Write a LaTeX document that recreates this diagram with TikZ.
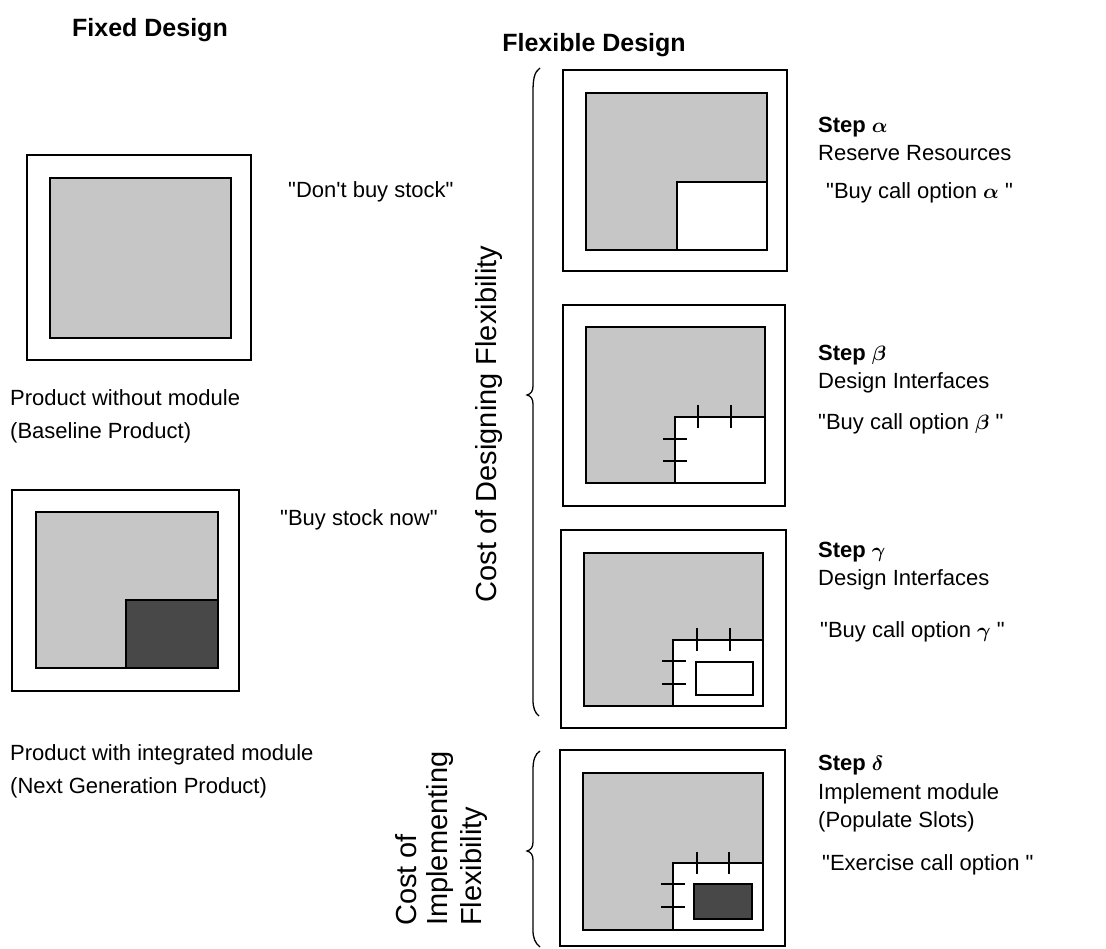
\documentclass[tikz,border=0pt]{standalone}
\usepackage{fontspec}
\usepackage{amsmath}
\setmainfont{Liberation Sans}[Ligatures=TeXOff]
\definecolor{graybox}{RGB}{198,198,198}
\definecolor{darkmod}{RGB}{72,72,72}
\begin{document}
\begin{tikzpicture}[x=1pt,y=-1pt,
  outerbox/.style={draw=black, line width=1.5pt, fill=white},
  innerbox/.style={draw=black, line width=1.8pt, fill=graybox},
  slotbox/.style={draw=black, line width=1.8pt, fill=white},
  modbox/.style={draw=black, line width=1.8pt, fill=darkmod},
  tickmark/.style={line width=1.6pt},
  bracestyle/.style={line width=1.3pt},
  title/.style={font=\fontsize{25}{30}\selectfont\bfseries, inner sep=0pt},
  body/.style={font=\fontsize{22}{33}\selectfont, inner sep=0pt, anchor=west, align=left},
  steptext/.style={font=\fontsize{22}{28.5}\selectfont, inner sep=0pt, anchor=west, align=left},
  rot/.style={font=\fontsize{29}{33}\selectfont, inner sep=0pt, rotate=90}
]
\useasboundingbox (0,0) rectangle (1106,949);
\fill[white] (0,0) rectangle (1106,949);

% titles
\node[title] (fixedt) at (150,30) {Fixed Design};
\node[title] (flext) at (594,45) {Flexible Design};

% fixed design boxes
\draw[outerbox] (27,155) rectangle (251,360);
\draw[innerbox] (50,178) rectangle (231,338);

\draw[outerbox] (12,490) rectangle (239,691);
\draw[innerbox] (36,512) rectangle (218,668);
\draw[modbox] (126,600) rectangle (218,668);

\node[body] (t1) at (10,416.5) {Product without module\\(Baseline Product)};
\node[body] (t2) at (10,771) {Product with integrated module\\(Next Generation Product)};
\node[body] (q1) at (288,192) {"Don't buy stock"};
\node[body] (q2) at (280,520) {"Buy stock now"};

% flexible design boxes
% alpha
\draw[outerbox] (563,70) rectangle (787,271);
\draw[innerbox] (586,93) rectangle (767,250);
\draw[slotbox] (677,182) rectangle (767,250);
% beta
\draw[outerbox] (563,305) rectangle (785,506);
\draw[innerbox] (586,327) rectangle (765,483);
\draw[slotbox] (675,417) rectangle (765,483);
\draw[tickmark] (698,405) -- (698,428) (731,405) -- (731,428);
\draw[tickmark] (663,439) -- (687,439) (663,461) -- (687,461);
% gamma
\draw[outerbox] (561,530) rectangle (786,728);
\draw[innerbox] (584,553) rectangle (763,706);
\draw[slotbox] (673,640) rectangle (763,706);
\draw[tickmark] (697,628) -- (697,651) (730,628) -- (730,651);
\draw[tickmark] (662,661) -- (686,661) (662,684) -- (686,684);
\draw[slotbox] (696,662) rectangle (753,695);
% delta
\draw[outerbox] (560,750) rectangle (785,946);
\draw[innerbox] (583,773) rectangle (763,930);
\draw[slotbox] (673,863) rectangle (763,930);
\draw[tickmark] (697,852) -- (697,874) (729,852) -- (729,874);
\draw[tickmark] (661,884) -- (685,884) (661,907) -- (685,907);
\draw[modbox] (694,884) rectangle (752,919);

% braces
\draw[bracestyle] (540,68) .. controls (534,72) and (533,80) .. (533,92)
  -- (533,386) .. controls (533,391) and (531,394) .. (527,395)
  .. controls (531,396) and (533,399) .. (533,404)
  -- (533,700) .. controls (533,708) and (535,713) .. (539,716);
\draw[bracestyle] (540,751) .. controls (535,754) and (533,760) .. (533,770)
  -- (533,842) .. controls (533,847) and (531,850) .. (527,851)
  .. controls (531,852) and (533,855) .. (533,860)
  -- (533,930) .. controls (533,938) and (535,943) .. (540,947);

% rotated labels
\node[rot] (cdf) at (489,424) {Cost of Designing Flexibility};
\node[rot, anchor=west] (c1) at (406,926) {Cost of};
\node[rot, anchor=west] (c2) at (440,926) {Implementing};
\node[rot, anchor=west] (c3) at (474,926) {Flexibility};

% step labels
\node[steptext] (sa) at (818,139) {\textbf{Step} $\boldsymbol{\alpha}$\\Reserve Resources};
\node[body] (qa) at (826,193) {"Buy call option $\boldsymbol{\alpha}$ "};
\node[steptext] (sb) at (818,369) {\textbf{Step} $\boldsymbol{\beta}$\\Design Interfaces};
\node[body] (qb) at (818,424) {"Buy call option $\boldsymbol{\beta}$ "};
\node[steptext] (sg) at (818,566) {\textbf{Step} $\boldsymbol{\gamma}$\\Design Interfaces};
\node[body] (qg) at (820,632) {"Buy call option $\boldsymbol{\gamma}$ "};
\node[steptext] (sd) at (818,794) {\textbf{Step} $\boldsymbol{\delta}$\\Implement module\\(Populate Slots)};
\node[body] (qd) at (822,865) {"Exercise call option "};
\end{tikzpicture}
\end{document}
